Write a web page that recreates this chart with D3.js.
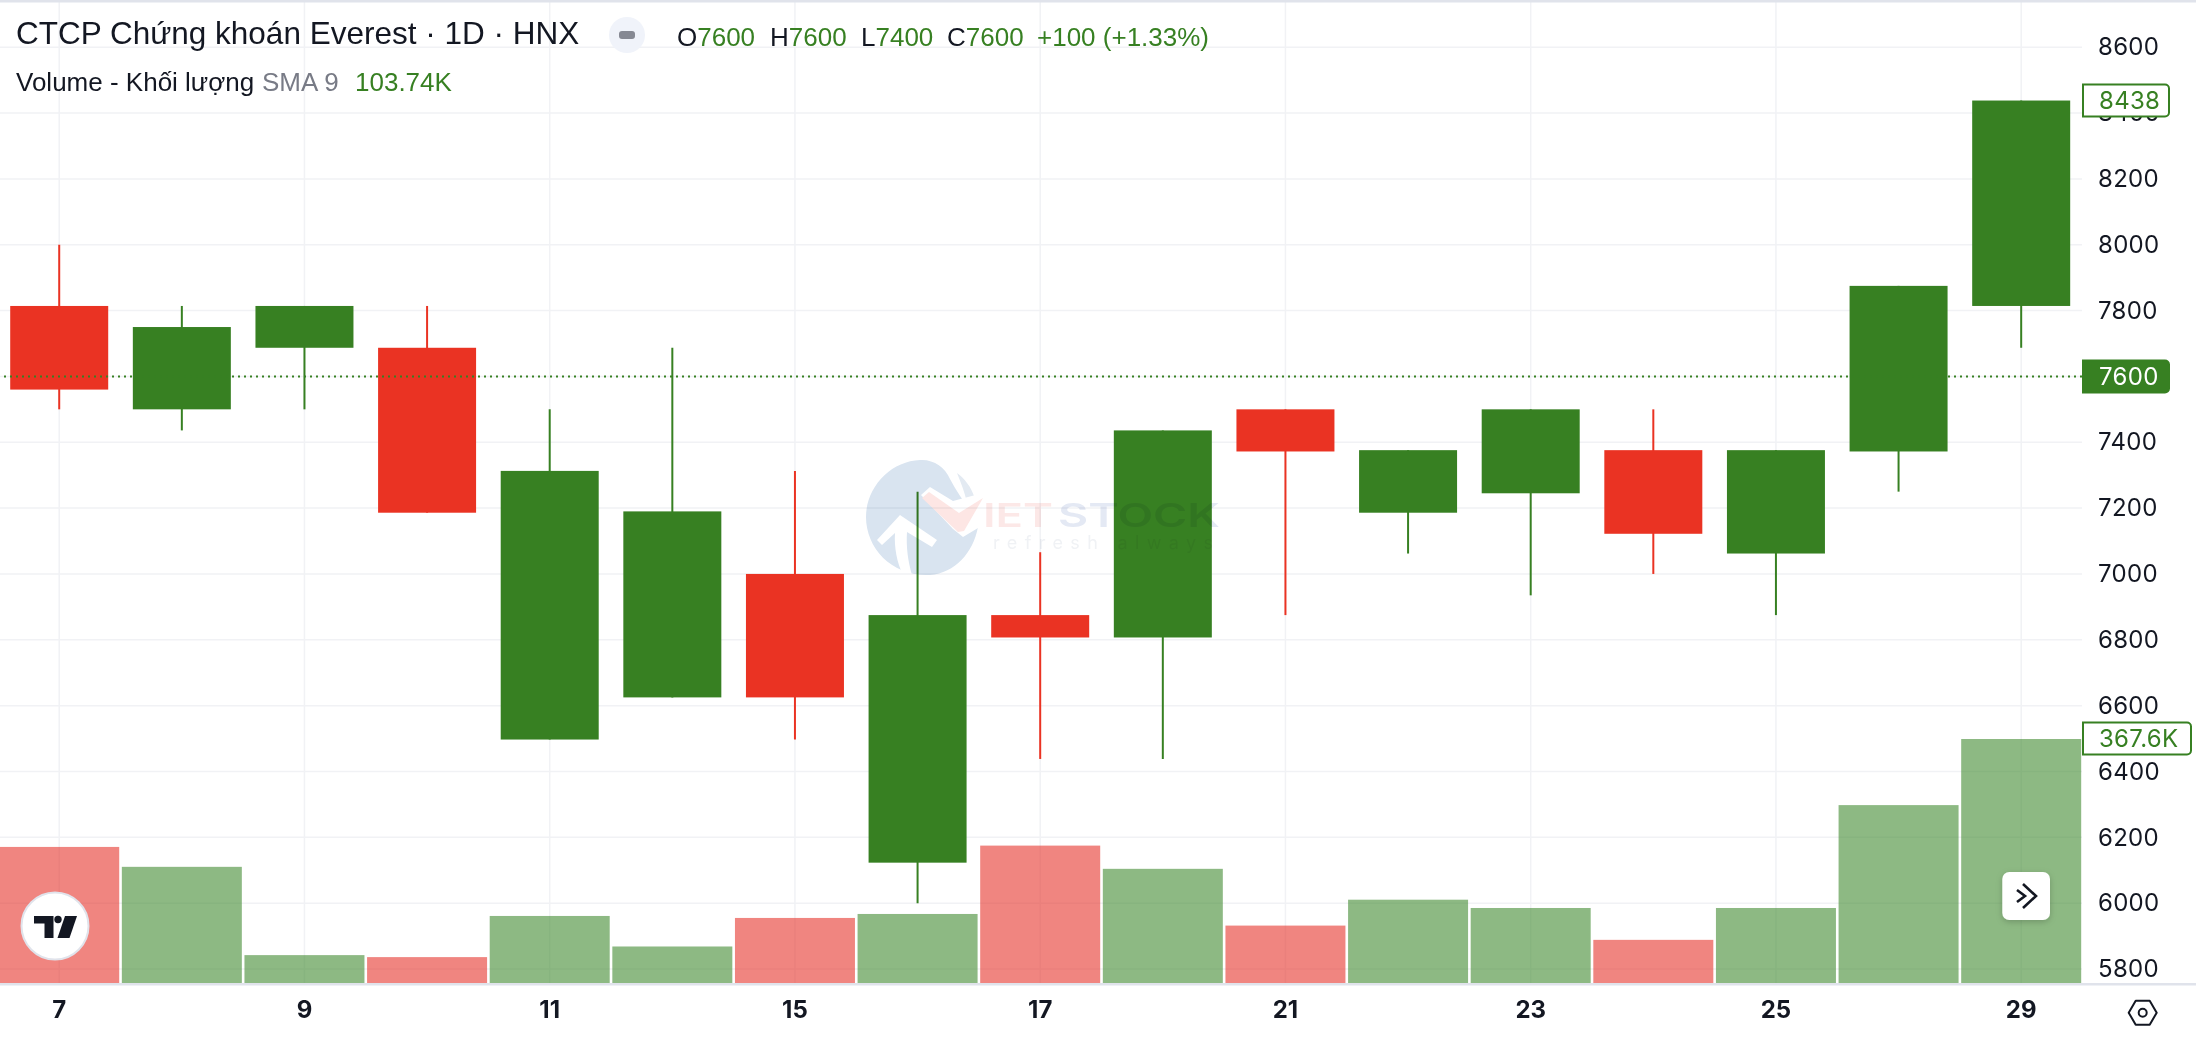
<!DOCTYPE html>
<html><head><meta charset="utf-8">
<script src="https://cdn.jsdelivr.net/npm/d3@7/dist/d3.min.js"></script>
<style>
html,body{margin:0;padding:0;background:#fff;overflow:hidden}
svg{display:block}
text{font-family:Inter,"Liberation Sans",sans-serif}
.leg text{font-family:"Liberation Sans",Arial,sans-serif}
</style></head><body>
<svg id="c" width="2196" height="1038"></svg>
<script>
const days=["7","8","9","10","11","14","15","16","17","18","21","22","23","24","25","28","29"];
const dayTicks=["7","9","11","15","17","21","23","25","29"];
const priceTicks=[5800,6000,6200,6400,6600,6800,7000,7200,7400,7600,7800,8000,8200,8400,8600];
const opens =[7814,7500,7687,7687,6497,6625,7000,6123,6875,6807,7500,7186,7245,7376,7062,7372,7814];
const closes=[7560,7750,7814,7186,7313,7190,6625,6875,6807,7436,7372,7376,7500,7122,7376,7875,8438];
const highs =[8000,7814,7814,7814,7500,7687,7313,7250,7066,7436,7500,7376,7500,7500,7376,7875,8438];
const lows  =[7500,7436,7500,7186,6497,6625,6497,6000,6438,6438,6875,7062,6935,7000,6875,7250,7687];
const redFlags=[1,0,0,1,0,0,1,0,1,0,1,0,0,1,0,0,0];
const volumes=[205,175,42,39,101,55,98,104,207,172,86.5,125.5,113,65,113,268,367.6];
const lastPrice=7600, lastHigh=8438, lastVolume=367.6;

const GREEN="#378022", RED="#ea3323", INK="#131722", GRID="#f1f2f5", EDGE="#e0e3eb";
const VOL_GREEN="#418a30", VOL_RED="#e6342b";
const svg=d3.select("#c");
const paneR=2082, baseY=983;
const x=d3.scaleBand().domain(days).range([-2.1,paneR+.5]);
const y=d3.scaleLinear().domain([5800,8600]).range([969,47.2]);
const v=d3.scaleLinear().domain([0,367.6]).range([baseY,739]);
const cx=d=>x(d)+x.bandwidth()/2;

svg.append("rect").attr("width",2196).attr("height",1038).attr("fill","#fff");

// grid
const grid=svg.append("g");
grid.selectAll("line.h").data(priceTicks).join("line").attr("class","h")
  .attr("x1",0).attr("x2",paneR).attr("y1",d=>y(d)).attr("y2",d=>y(d)).attr("stroke",GRID).attr("stroke-width",1.5);
grid.selectAll("line.v").data(dayTicks).join("line").attr("class","v")
  .attr("x1",cx).attr("x2",cx).attr("y1",2).attr("y2",baseY).attr("stroke",GRID).attr("stroke-width",1.5);

// volume
svg.append("g").selectAll("rect").data(volumes).join("rect")
  .attr("x",(d,i)=>cx(days[i])-60).attr("width",120)
  .attr("y",d=>v(d)).attr("height",d=>baseY-v(d))
  .attr("fill",(d,i)=>redFlags[i]?VOL_RED:VOL_GREEN).attr("fill-opacity",.6);

// candles
const cg=svg.append("g");
cg.selectAll("line").data(days).join("line")
  .attr("x1",cx).attr("x2",cx)
  .attr("y1",(d,i)=>y(highs[i])).attr("y2",(d,i)=>y(lows[i]))
  .attr("stroke",(d,i)=>redFlags[i]?RED:GREEN).attr("stroke-width",2);
cg.selectAll("rect").data(days).join("rect")
  .attr("x",d=>cx(d)-49).attr("width",98)
  .attr("y",(d,i)=>y(Math.max(opens[i],closes[i])))
  .attr("height",(d,i)=>Math.abs(y(opens[i])-y(closes[i])))
  .attr("fill",(d,i)=>redFlags[i]?RED:GREEN);

// watermark (blended over the marks)
const wm=svg.append("g").attr("transform","translate(923,517)").style("mix-blend-mode","multiply");
wm.append("path").attr("fill","#d9e4f0")
  .attr("d","M-3,-57 C10,-58 22,-50 27,-38 C36,-20 50,-6 55,10 C50,36 32,56 7,58 C-30,60 -57,32 -57,0 C-57,-30 -32,-56 -3,-57Z");
wm.append("path").attr("fill","#e3eaf2").attr("d","M34,-44 C42,-38 48,-30 51,-21 L44,-14 C42,-24 38,-34 34,-44Z");
wm.append("path").attr("fill","#fff").attr("d","M-23,-2 L-46,23 L-41,28 L-28,16 C-29,30 -26,46 -20,58 L-11,58 C-15,44 -17,30 -16,15 L9,30 L14,23Z");
wm.append("path").attr("fill","#fff").attr("d","M-2,-22 L7,-30 L30,-16 L60,-24 L60,8 L40,20 L30,12Z");
wm.append("path").attr("fill","#fde6e4").attr("d","M-1,-19 L6,-25 L36,-4 L60,-19 L41,14 L35,15Z");
wm.append("text").attr("x",60).attr("y",10).attr("font-size",32).attr("font-weight",600)
  .attr("textLength",70).attr("lengthAdjust","spacingAndGlyphs").attr("fill","#fce8e7").text("IET");
wm.append("text").attr("x",135).attr("y",10).attr("font-size",32).attr("font-weight",600)
  .attr("textLength",162).attr("lengthAdjust","spacingAndGlyphs").attr("fill","#e4e9f4").text("STOCK");
wm.append("text").attr("x",70).attr("y",32).attr("font-size",18)
  .attr("textLength",220).attr("fill","#f0f2f5").text("refresh always");

// price line
svg.append("line").attr("x1",4).attr("x2",paneR).attr("y1",y(lastPrice)).attr("y2",y(lastPrice))
  .attr("stroke",GREEN).attr("stroke-width",2).attr("stroke-dasharray","2 4");

// right & bottom chrome
svg.append("rect").attr("x",0).attr("y",0).attr("width",2196).attr("height",2.5).attr("fill",EDGE);
svg.append("rect").attr("x",0).attr("y",baseY).attr("width",2196).attr("height",2.5).attr("fill",EDGE);

// axes
const ay=svg.append("g").attr("transform",`translate(${paneR},0)`)
  .call(d3.axisRight(y).tickValues(priceTicks).tickFormat(d3.format("d")).tickSize(0).tickPadding(16));
ay.select(".domain").remove();
ay.selectAll("text").attr("font-size",24).attr("fill",INK).attr("font-family","Inter").attr("letter-spacing",.3);
const ax=svg.append("g").attr("transform",`translate(0,${baseY})`)
  .call(d3.axisBottom(x).tickValues(dayTicks).tickSize(0).tickPadding(18));
ax.select(".domain").remove();
ax.selectAll("text").attr("font-size",24).attr("font-weight",700).attr("fill",INK).attr("font-family","Inter");

// price labels
function tag(yc,w,txt,solid){
  const g=svg.append("g");
  const h=32, rx=4, X=2083;
  g.append("path").attr("d",`M${X},${yc-h/2}h${w-rx}a${rx},${rx} 0 0 1 ${rx},${rx}v${h-2*rx}a${rx},${rx} 0 0 1 ${-rx},${rx}h${-(w-rx)}Z`)
   .attr("fill",solid?GREEN:"#fff").attr("stroke",GREEN).attr("stroke-width",2);
  g.append("text").attr("x",X+16).attr("y",yc).attr("dy",".36em").attr("font-size",24).attr("letter-spacing",.3)
   .attr("fill",solid?"#fff":GREEN).text(txt);
}
tag(y(lastPrice),86,String(lastPrice),true);
tag(y(lastHigh),86,String(lastHigh),false);
tag(v(lastVolume)-.5,108,lastVolume+"K",false);

// legend
const leg=svg.append("g").attr("class","leg");
function t(xp,yp,s,fill,size){leg.append("text").attr("x",xp).attr("y",yp).attr("font-size",size||27).attr("fill",fill).text(s);}
t(16,44,"CTCP Chứng khoán Everest · 1D · HNX",INK,31.5);
leg.append("circle").attr("cx",627).attr("cy",35).attr("r",18).attr("fill","#f0f3fa");
leg.append("rect").attr("x",619).attr("y",31).attr("width",16).attr("height",8).attr("rx",3).attr("fill","#868993");
[[677,"O","7600"],[770,"H","7600"],[861,"L","7400"],[947,"C","7600"]].forEach(r=>{
  const lab=leg.append("text").attr("x",r[0]).attr("y",46).attr("font-size",26).attr("fill",INK).text(r[1]);
  lab.append("tspan").attr("fill",GREEN).text(r[2]);
});
t(1037,46,"+100 (+1.33%)",GREEN,26);
t(16,91,"Volume - Khối lượng",INK,26);
t(262,91,"SMA 9","#787b86",26);
t(355,91,"103.74K",GREEN,26);

// TV logo
const logo=svg.append("g").attr("transform","translate(0,820)");
logo.append("circle").attr("cx",55).attr("cy",106).attr("r",33.5).attr("fill","#fff").attr("stroke",EDGE).attr("stroke-width",2);
logo.append("path").attr("fill",INK).attr("d","M34,96H53.5V118H44.5V103.5H34Z");
logo.append("circle").attr("cx",58).attr("cy",99.5).attr("r",3.7).attr("fill",INK);
logo.append("path").attr("fill",INK).attr("d","M65,96H77L69.5,118H57.5Z");

// scroll button
const f=svg.append("defs").append("filter").attr("id","sh").attr("x","-30%").attr("y","-30%").attr("width","160%").attr("height","170%");
f.append("feDropShadow").attr("dx",0).attr("dy",2).attr("stdDeviation",3).attr("flood-color","#000").attr("flood-opacity",.2);
svg.append("rect").attr("x",2002.3).attr("y",872).attr("width",47.7).attr("height",48).attr("rx",7).attr("fill","#fff").attr("filter","url(#sh)");
svg.append("path").attr("fill","none").attr("stroke",INK).attr("stroke-width",2.6)
  .attr("d","M2017,890L2025,896L2017,902M2023,884L2036,896L2023,908");

// settings
const s=svg.append("g").attr("transform","translate(2142.7,1012.7)");
s.append("path").attr("fill","none").attr("stroke",INK).attr("stroke-width",2).attr("stroke-linejoin","round")
  .attr("d","M-14,0L-7,-12H7L14,0L7,12H-7Z");
s.append("circle").attr("r",4).attr("fill","none").attr("stroke",INK).attr("stroke-width",2);
</script></body></html>
